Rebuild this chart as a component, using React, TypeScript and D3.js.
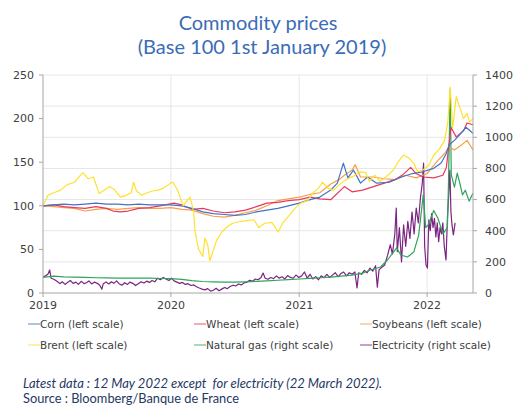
import * as d3 from 'd3';

type Pt = [string, number];

// left scale series (base 100)
const corn: Pt[] = [
  ['2019-01-01', 100], ['2019-02-01', 101], ['2019-03-01', 102], ['2019-04-01', 101], ['2019-05-01', 102],
  ['2019-06-01', 103], ['2019-07-01', 102], ['2019-08-01', 102], ['2019-09-01', 101], ['2019-10-01', 102],
  ['2019-11-01', 101], ['2019-12-01', 101], ['2020-01-01', 101], ['2020-02-01', 100], ['2020-03-01', 97],
  ['2020-04-01', 93], ['2020-05-01', 91], ['2020-06-01', 90], ['2020-07-01', 89], ['2020-08-01', 90],
  ['2020-09-01', 93], ['2020-10-01', 95], ['2020-11-01', 97], ['2020-12-01', 100], ['2021-01-01', 103],
  ['2021-02-01', 107], ['2021-03-01', 110], ['2021-04-01', 118], ['2021-04-20', 126], ['2021-05-07', 149],
  ['2021-05-20', 132], ['2021-06-05', 141], ['2021-06-25', 126], ['2021-07-15', 133], ['2021-08-10', 126],
  ['2021-09-15', 127], ['2021-10-20', 133], ['2021-11-20', 137], ['2021-12-20', 139], ['2022-01-20', 143],
  ['2022-02-10', 149], ['2022-02-25', 160], ['2022-03-05', 170], ['2022-03-20', 175], ['2022-04-05', 182],
  ['2022-04-22', 190], ['2022-05-01', 187], ['2022-05-12', 183],
];

const wheat: Pt[] = [
  ['2019-01-01', 100], ['2019-02-01', 101], ['2019-03-01', 99], ['2019-04-01', 98], ['2019-05-01', 97],
  ['2019-06-01', 99], ['2019-07-01', 97], ['2019-07-20', 94], ['2019-08-10', 93], ['2019-09-01', 94],
  ['2019-10-01', 97], ['2019-11-01', 98], ['2019-12-01', 100], ['2020-01-10', 103], ['2020-02-01', 101],
  ['2020-03-01', 96], ['2020-04-01', 97], ['2020-05-01', 94], ['2020-06-01', 92], ['2020-07-01', 93],
  ['2020-08-01', 95], ['2020-09-01', 99], ['2020-10-01', 103], ['2020-11-01', 104], ['2020-12-01', 106],
  ['2021-01-01', 107], ['2021-02-01', 110], ['2021-03-01', 108], ['2021-04-01', 107], ['2021-05-10', 122],
  ['2021-06-01', 116], ['2021-07-01', 118], ['2021-08-01', 122], ['2021-09-01', 126], ['2021-10-01', 130],
  ['2021-10-25', 136], ['2021-11-15', 144], ['2021-12-01', 137], ['2021-12-20', 133], ['2022-01-20', 132],
  ['2022-02-15', 135], ['2022-02-25', 144], ['2022-03-05', 172], ['2022-03-10', 190], ['2022-03-25', 179],
  ['2022-04-15', 186], ['2022-04-25', 195], ['2022-05-12', 193],
];

const soybeans: Pt[] = [
  ['2019-01-01', 100], ['2019-02-01', 99], ['2019-03-01', 98], ['2019-04-01', 97], ['2019-05-01', 94],
  ['2019-06-01', 96], ['2019-07-01', 97], ['2019-08-01', 96], ['2019-09-01', 97], ['2019-10-01', 98],
  ['2019-11-01', 97], ['2019-12-01', 97], ['2020-01-01', 98], ['2020-02-01', 96], ['2020-03-01', 95],
  ['2020-04-01', 91], ['2020-05-01', 88], ['2020-06-01', 87], ['2020-07-01', 89], ['2020-08-01', 92],
  ['2020-09-01', 95], ['2020-10-01', 100], ['2020-11-01', 106], ['2020-12-01', 108], ['2021-01-01', 110],
  ['2021-02-01', 113], ['2021-03-01', 115], ['2021-04-01', 125], ['2021-04-25', 130], ['2021-05-10', 135],
  ['2021-06-01', 141], ['2021-06-10', 147], ['2021-06-25', 133], ['2021-08-01', 133], ['2021-09-01', 131],
  ['2021-10-01', 130], ['2021-11-01', 135], ['2021-12-01', 132], ['2022-01-01', 137], ['2022-02-01', 152],
  ['2022-02-20', 160], ['2022-03-05', 168], ['2022-03-20', 164], ['2022-04-10', 170], ['2022-04-25', 175],
  ['2022-05-12', 164],
];

const brent: Pt[] = [
  ['2019-01-01', 100], ['2019-01-15', 112], ['2019-02-01', 115], ['2019-02-20', 118], ['2019-03-10', 124],
  ['2019-04-01', 127], ['2019-04-20', 136], ['2019-04-25', 138], ['2019-05-10', 131], ['2019-05-25', 133],
  ['2019-06-10', 114], ['2019-06-25', 118], ['2019-07-10', 122], ['2019-07-25', 118], ['2019-08-10', 110],
  ['2019-08-25', 112], ['2019-09-10', 115], ['2019-09-16', 127], ['2019-09-25', 117], ['2019-10-10', 112],
  ['2019-10-25', 115], ['2019-11-10', 117], ['2019-11-25', 118], ['2019-12-10', 120], ['2019-12-31', 126],
  ['2020-01-07', 127], ['2020-01-20', 118], ['2020-02-05', 100], ['2020-02-20', 108], ['2020-02-25', 110],
  ['2020-03-06', 93], ['2020-03-10', 70], ['2020-03-20', 50], ['2020-04-01', 42], ['2020-04-07', 63],
  ['2020-04-15', 55], ['2020-04-21', 37], ['2020-04-28', 45], ['2020-05-10', 60], ['2020-05-25', 70],
  ['2020-06-10', 76], ['2020-06-25', 80], ['2020-07-15', 82], ['2020-08-05', 83], ['2020-08-25', 84],
  ['2020-09-08', 75], ['2020-09-25', 80], ['2020-10-15', 81], ['2020-11-02', 70], ['2020-11-15', 80],
  ['2020-12-01', 88], ['2020-12-20', 97], ['2021-01-05', 103], ['2021-01-25', 106], ['2021-02-10', 115],
  ['2021-02-25', 120], ['2021-03-08', 127], ['2021-03-25', 120], ['2021-04-10', 118], ['2021-04-25', 124],
  ['2021-05-15', 130], ['2021-06-05', 134], ['2021-06-25', 139], ['2021-07-10', 138], ['2021-07-20', 128],
  ['2021-08-05', 135], ['2021-08-20', 128], ['2021-09-05', 133], ['2021-09-25', 140], ['2021-10-10', 150],
  ['2021-10-25', 158], ['2021-11-10', 155], ['2021-11-25', 148], ['2021-12-05', 139], ['2021-12-20', 141],
  ['2022-01-05', 146], ['2022-01-20', 158], ['2022-02-05', 165], ['2022-02-20', 175], ['2022-03-01', 195],
  ['2022-03-08', 236], ['2022-03-15', 189], ['2022-03-25', 225], ['2022-04-05', 212], ['2022-04-15', 200],
  ['2022-04-25', 206], ['2022-05-02', 196], ['2022-05-12', 200],
];

// right scale series
const naturalGas: Pt[] = [
  ['2019-01-01', 100], ['2019-02-01', 108], ['2019-03-01', 104], ['2019-04-01', 102], ['2019-05-01', 100],
  ['2019-06-01', 98], ['2019-07-01', 97], ['2019-08-01', 96], ['2019-09-01', 95], ['2019-10-01', 95],
  ['2019-11-01', 95], ['2019-12-01', 93], ['2020-01-01', 92], ['2020-02-01', 88], ['2020-03-01', 80],
  ['2020-04-01', 74], ['2020-05-01', 72], ['2020-06-01', 70], ['2020-07-01', 70], ['2020-08-01', 72],
  ['2020-09-01', 75], ['2020-10-01', 78], ['2020-11-01', 82], ['2020-12-01', 86], ['2021-01-01', 90],
  ['2021-02-01', 94], ['2021-03-01', 98], ['2021-04-01', 102], ['2021-05-01', 108], ['2021-06-01', 115],
  ['2021-07-01', 128], ['2021-07-23', 148], ['2021-08-21', 167], ['2021-09-10', 212], ['2021-09-27', 263],
  ['2021-10-06', 290], ['2021-10-18', 244], ['2021-11-06', 231], ['2021-11-24', 263], ['2021-12-08', 372],
  ['2021-12-21', 630], ['2021-12-28', 420], ['2022-01-05', 440], ['2022-01-20', 530], ['2022-02-01', 480],
  ['2022-02-15', 380], ['2022-02-28', 420], ['2022-03-03', 700], ['2022-03-08', 1310], ['2022-03-11', 760],
  ['2022-03-20', 680], ['2022-03-28', 770], ['2022-04-05', 700], ['2022-04-12', 630], ['2022-04-20', 660],
  ['2022-05-01', 590], ['2022-05-12', 640],
];

const electricity: Pt[] = [
  ['2019-01-01', 103], ['2019-01-08', 110], ['2019-01-15', 120], ['2019-01-20', 148], ['2019-01-24', 95],
  ['2019-02-01', 88], ['2019-02-10', 75], ['2019-02-18', 60], ['2019-02-25', 72], ['2019-03-05', 55],
  ['2019-03-12', 68], ['2019-03-20', 80], ['2019-03-28', 62], ['2019-04-05', 70], ['2019-04-12', 55],
  ['2019-04-20', 75], ['2019-04-28', 60], ['2019-05-05', 66], ['2019-05-12', 78], ['2019-05-20', 58],
  ['2019-05-28', 70], ['2019-06-05', 62], ['2019-06-12', 50], ['2019-06-18', 25], ['2019-06-22', 60],
  ['2019-06-30', 70], ['2019-07-08', 58], ['2019-07-15', 72], ['2019-07-22', 62], ['2019-07-30', 78],
  ['2019-08-06', 60], ['2019-08-14', 50], ['2019-08-22', 66], ['2019-08-30', 55], ['2019-09-06', 70],
  ['2019-09-14', 62], ['2019-09-22', 48], ['2019-09-30', 60], ['2019-10-08', 72], ['2019-10-16', 64],
  ['2019-10-24', 76], ['2019-11-01', 68], ['2019-11-08', 80], ['2019-11-16', 72], ['2019-11-24', 95],
  ['2019-12-02', 85], ['2019-12-10', 100], ['2019-12-18', 90], ['2019-12-26', 80], ['2020-01-03', 95],
  ['2020-01-10', 78], ['2020-01-18', 70], ['2020-01-26', 62], ['2020-02-03', 68], ['2020-02-11', 55],
  ['2020-02-19', 60], ['2020-02-27', 48], ['2020-03-06', 52], ['2020-03-14', 40], ['2020-03-22', 32],
  ['2020-03-30', 25], ['2020-04-07', 20], ['2020-04-15', 28], ['2020-04-23', 12], ['2020-05-01', 18],
  ['2020-05-09', 30], ['2020-05-17', 15], ['2020-05-25', 25], ['2020-06-02', 35], ['2020-06-10', 28],
  ['2020-06-18', 42], ['2020-06-26', 50], ['2020-07-04', 45], ['2020-07-12', 58], ['2020-07-20', 52],
  ['2020-07-28', 65], ['2020-08-05', 70], ['2020-08-13', 82], ['2020-08-21', 75], ['2020-08-29', 90],
  ['2020-09-06', 85], ['2020-09-14', 100], ['2020-09-20', 128], ['2020-09-26', 95], ['2020-10-04', 88],
  ['2020-10-12', 100], ['2020-10-20', 92], ['2020-10-28', 110], ['2020-11-05', 95], ['2020-11-13', 105],
  ['2020-11-21', 90], ['2020-11-29', 112], ['2020-12-07', 100], ['2020-12-15', 95], ['2020-12-23', 115],
  ['2020-12-31', 100], ['2021-01-08', 110], ['2021-01-16', 135], ['2021-01-24', 95], ['2021-02-01', 120],
  ['2021-02-09', 90], ['2021-02-17', 105], ['2021-02-25', 85], ['2021-03-05', 110], ['2021-03-13', 98],
  ['2021-03-21', 120], ['2021-03-29', 100], ['2021-04-06', 115], ['2021-04-14', 130], ['2021-04-22', 105],
  ['2021-04-30', 125], ['2021-05-08', 135], ['2021-05-16', 110], ['2021-05-24', 130], ['2021-06-01', 120],
  ['2021-06-09', 135], ['2021-06-15', 32], ['2021-06-20', 130], ['2021-06-28', 120], ['2021-07-06', 145],
  ['2021-07-14', 130], ['2021-07-22', 160], ['2021-07-30', 140], ['2021-08-07', 175], ['2021-08-12', 38],
  ['2021-08-17', 150], ['2021-08-25', 165], ['2021-09-02', 180], ['2021-09-10', 240], ['2021-09-18', 310],
  ['2021-09-24', 250], ['2021-10-01', 380], ['2021-10-05', 546], ['2021-10-08', 265], ['2021-10-14', 420],
  ['2021-10-20', 200], ['2021-10-26', 437], ['2021-11-01', 300], ['2021-11-07', 460], ['2021-11-13', 350],
  ['2021-11-19', 520], ['2021-11-25', 380], ['2021-12-01', 546], ['2021-12-07', 450], ['2021-12-13', 610],
  ['2021-12-18', 700], ['2021-12-22', 835], ['2021-12-25', 300], ['2021-12-29', 180], ['2022-01-02', 160],
  ['2022-01-06', 470], ['2022-01-10', 400], ['2022-01-14', 510], ['2022-01-18', 420], ['2022-01-22', 480],
  ['2022-01-26', 360], ['2022-01-30', 450], ['2022-02-03', 330], ['2022-02-07', 420], ['2022-02-11', 380],
  ['2022-02-15', 450], ['2022-02-19', 300], ['2022-02-24', 212], ['2022-02-28', 480], ['2022-03-03', 600],
  ['2022-03-07', 790], ['2022-03-10', 520], ['2022-03-13', 437], ['2022-03-17', 373], ['2022-03-22', 450],
];

const leftTicks = [0, 50, 100, 150, 200, 250];
const rightTicks = [0, 200, 400, 600, 800, 1000, 1200, 1400];
const yearTicks = ['2019-01-01', '2020-01-01', '2021-01-01', '2022-01-01'];

const legendItems = [
  { label: 'Corn (left scale)', color: '#4472C4' },
  { label: 'Wheat (left scale)', color: '#E8385C' },
  { label: 'Soybeans (left scale)', color: '#F5A04A' },
  { label: 'Brent (left scale)', color: '#FFE12E' },
  { label: 'Natural gas (right scale)', color: '#2FA55A' },
  { label: 'Electricity (right scale)', color: '#7B2481' },
];

const parse = d3.timeParse('%Y-%m-%d');

export default function App() {
  const W = 514;
  const H = 405;
  const margin = { top: 75, right: 41, bottom: 112, left: 43 };
  const x0 = margin.left;
  const x1 = W - margin.right;
  const yTop = margin.top;
  const yBot = H - margin.bottom;

  const x = d3
    .scaleTime()
    .domain([parse('2019-01-01')!, parse('2022-05-12')!])
    .range([x0, x1]);
  const yL = d3.scaleLinear().domain([0, 250]).range([yBot, yTop]);
  const yR = d3.scaleLinear().domain([0, 1400]).range([yBot, yTop]);

  const lineL = d3
    .line<Pt>()
    .x((d) => x(parse(d[0])!))
    .y((d) => yL(d[1]));
  const lineR = d3
    .line<Pt>()
    .x((d) => x(parse(d[0])!))
    .y((d) => yR(d[1]));

  // drawing order: electricity and gas first, then grains, brent last
  const series = [
    { data: electricity, line: lineR, color: legendItems[5].color },
    { data: naturalGas, line: lineR, color: legendItems[4].color },
    { data: soybeans, line: lineL, color: legendItems[2].color },
    { data: wheat, line: lineL, color: legendItems[1].color },
    { data: corn, line: lineL, color: legendItems[0].color },
    { data: brent, line: lineL, color: legendItems[3].color },
  ];

  const axisColor = '#A6A6A6';
  const tickFont = { fontFamily: 'DejaVu Sans', fontSize: 11, fill: '#404040' };

  const legendCols = [28, 194, 360];
  const legendRows = [324, 345];

  return (
    <svg width={W} height={H} style={{ position: 'absolute', left: 0, top: 0 }}>
      <rect width={W} height={H} fill="#fff" />

      {/* title */}
      <text x={258} y={30} textAnchor="middle" fontFamily="Lato" fontSize={20} fill="#3B6CB7">
        Commodity prices
      </text>
      <text x={262} y={54} textAnchor="middle" fontFamily="Lato" fontSize={20} fill="#3B6CB7">
        (Base 100 1st January 2019)
      </text>

      {/* gridlines */}
      {rightTicks.slice(1).map((t) => (
        <line key={'h' + t} x1={x0} x2={x1} y1={yR(t)} y2={yR(t)} stroke="#E6E6E6" strokeWidth={1} />
      ))}
      {yearTicks.slice(1).map((t) => (
        <line key={'v' + t} x1={x(parse(t)!)} x2={x(parse(t)!)} y1={yTop} y2={yBot} stroke="#E6E6E6" strokeWidth={1} />
      ))}

      {/* series */}
      {series.map((s, i) => (
        <path key={i} d={s.line(s.data) ?? ''} fill="none" stroke={s.color} strokeWidth={1.2} strokeLinejoin="round" />
      ))}

      {/* axes */}
      <line x1={x0} x2={x0} y1={yTop} y2={yBot} stroke={axisColor} />
      <line x1={x1} x2={x1} y1={yTop} y2={yBot} stroke={axisColor} />
      <line x1={x0} x2={x1} y1={yBot} y2={yBot} stroke={axisColor} />

      {leftTicks.map((t) => (
        <g key={'l' + t}>
          <line x1={x0 - 4} x2={x0} y1={yL(t)} y2={yL(t)} stroke={axisColor} />
          <text x={x0 - 9} y={yL(t)} dy="0.35em" textAnchor="end" {...tickFont}>
            {t}
          </text>
        </g>
      ))}
      {rightTicks.map((t) => (
        <g key={'r' + t}>
          <line x1={x1} x2={x1 + 4} y1={yR(t)} y2={yR(t)} stroke={axisColor} />
          <text x={x1 + 12} y={yR(t)} dy="0.35em" textAnchor="start" {...tickFont}>
            {t}
          </text>
        </g>
      ))}
      {yearTicks.map((t) => (
        <g key={'x' + t}>
          <line x1={x(parse(t)!)} x2={x(parse(t)!)} y1={yBot} y2={yBot + 4} stroke={axisColor} />
          <text x={x(parse(t)!)} y={yBot + 16} textAnchor="middle" {...tickFont}>
            {t.slice(0, 4)}
          </text>
        </g>
      ))}

      {/* legend */}
      {legendItems.map((item, i) => {
        const lx = legendCols[i % 3];
        const ly = legendRows[Math.floor(i / 3)];
        return (
          <g key={item.label}>
            <line x1={lx} x2={lx + 12} y1={ly} y2={ly} stroke={item.color} strokeWidth={1.2} opacity={0.7} />
            <text x={lx + 12} y={ly} dy="0.35em" fontFamily="DejaVu Sans" fontSize={10.5} fill="#404040">
              {item.label}
            </text>
          </g>
        );
      })}

      {/* footer */}
      <text x={23} y={388} fontFamily="Lato" fontSize={13} fontStyle="italic" fill="#1F3864" style={{ whiteSpace: 'pre' }}>
        Latest data : 12 May 2022 except  for electricity (22 March 2022).
      </text>
      <text x={23} y={403} fontFamily="Lato" fontSize={12.8} fill="#1F3864">
        Source : Bloomberg/Banque de France
      </text>
    </svg>
  );
}
